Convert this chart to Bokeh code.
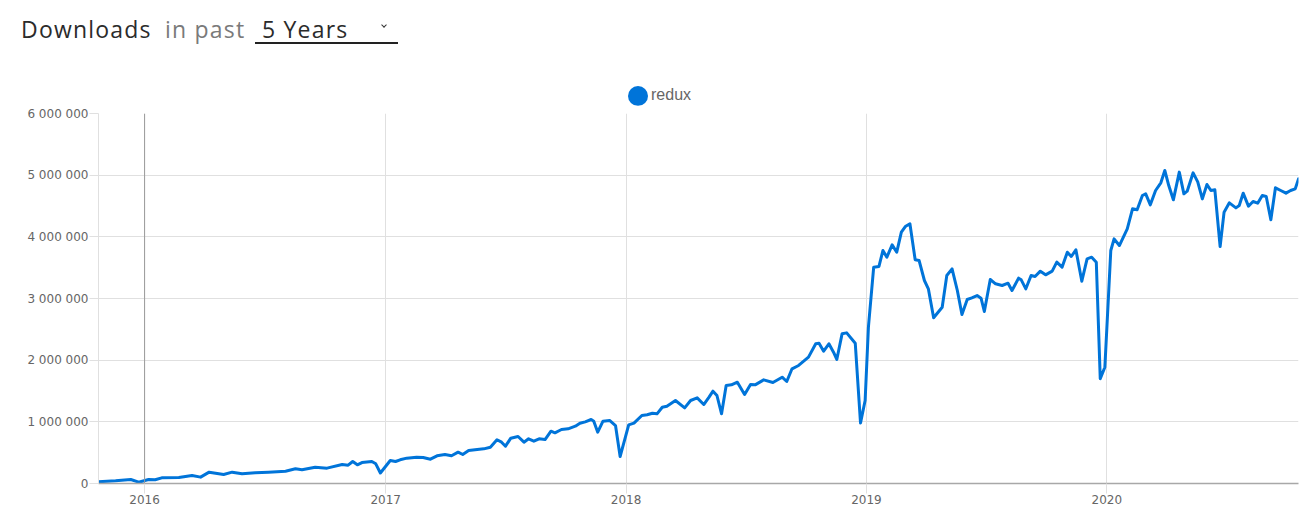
from datetime import datetime
import pandas as pd
from bokeh.plotting import figure
from bokeh.models import (Div, FixedTicker, DatetimeTickFormatter, Span, Range1d)
from bokeh.layouts import column
from bokeh.embed import file_html
from bokeh.resources import INLINE

package = "redux"
years = [2016, 2017, 2018, 2019, 2020]
y_ticks = [0, 1000000, 2000000, 3000000, 4000000, 5000000, 6000000]

week = [
    "2015-10-23", "2015-11-18", "2015-12-11", "2015-12-23", "2016-01-07", "2016-01-17",
    "2016-01-27", "2016-02-22", "2016-03-13", "2016-03-26", "2016-04-08", "2016-04-30",
    "2016-05-13", "2016-05-28", "2016-06-17", "2016-07-07", "2016-08-02", "2016-08-17",
    "2016-08-27", "2016-09-16", "2016-10-04", "2016-10-27", "2016-11-05", "2016-11-12",
    "2016-11-19", "2016-11-26", "2016-12-11", "2016-12-17", "2016-12-24", "2017-01-08",
    "2017-01-16", "2017-01-23", "2017-02-02", "2017-02-17", "2017-02-27", "2017-03-10",
    "2017-03-20", "2017-04-01", "2017-04-11", "2017-04-21", "2017-04-28", "2017-05-07",
    "2017-05-20", "2017-05-30", "2017-06-09", "2017-06-19", "2017-06-26", "2017-07-02",
    "2017-07-10", "2017-07-21", "2017-07-30", "2017-08-06", "2017-08-14", "2017-08-22",
    "2017-08-31", "2017-09-09", "2017-09-15", "2017-09-25", "2017-10-05", "2017-10-16",
    "2017-10-23", "2017-10-31", "2017-11-09", "2017-11-13", "2017-11-19", "2017-11-27",
    "2017-12-07", "2017-12-16", "2017-12-23", "2017-12-31", "2018-01-05", "2018-01-13",
    "2018-01-25", "2018-02-02", "2018-02-10", "2018-02-17", "2018-02-25", "2018-03-04",
    "2018-03-17", "2018-03-31", "2018-04-09", "2018-04-19", "2018-04-29", "2018-05-07",
    "2018-05-13", "2018-05-19", "2018-05-26", "2018-06-02", "2018-06-10", "2018-06-19",
    "2018-06-30", "2018-07-09", "2018-07-16", "2018-07-29", "2018-08-12", "2018-08-26",
    "2018-09-02", "2018-09-10", "2018-09-20", "2018-10-05", "2018-10-16", "2018-10-21",
    "2018-10-28", "2018-11-05", "2018-11-12", "2018-11-17", "2018-11-25", "2018-12-02",
    "2018-12-15", "2018-12-23", "2018-12-30", "2019-01-04", "2019-01-12", "2019-01-20",
    "2019-01-26", "2019-02-01", "2019-02-09", "2019-02-16", "2019-02-23", "2019-03-01",
    "2019-03-08", "2019-03-16", "2019-03-22", "2019-03-30", "2019-04-05", "2019-04-13",
    "2019-04-26", "2019-05-03", "2019-05-11", "2019-05-19", "2019-05-26", "2019-06-03",
    "2019-06-10", "2019-06-18", "2019-06-24", "2019-06-29", "2019-07-08", "2019-07-16",
    "2019-07-26", "2019-08-04", "2019-08-10", "2019-08-20", "2019-08-24", "2019-08-31",
    "2019-09-08", "2019-09-14", "2019-09-22", "2019-09-30", "2019-10-10", "2019-10-17",
    "2019-10-25", "2019-11-02", "2019-11-08", "2019-11-15", "2019-11-24", "2019-12-02",
    "2019-12-09", "2019-12-16", "2019-12-22", "2019-12-29", "2020-01-07", "2020-01-12",
    "2020-01-20", "2020-02-01", "2020-02-09", "2020-02-16", "2020-02-24", "2020-02-29",
    "2020-03-07", "2020-03-15", "2020-03-23", "2020-03-29", "2020-04-04", "2020-04-11",
    "2020-04-20", "2020-04-27", "2020-05-02", "2020-05-11", "2020-05-18", "2020-05-25",
    "2020-06-01", "2020-06-07", "2020-06-13", "2020-06-21", "2020-06-27", "2020-07-05",
    "2020-07-15", "2020-07-20", "2020-07-26", "2020-08-03", "2020-08-10", "2020-08-17",
    "2020-08-24", "2020-08-30", "2020-09-06", "2020-09-13", "2020-09-21", "2020-09-29",
    "2020-10-06", "2020-10-13", "2020-10-18",
]

downloads = [
    27000, 43000, 65000, 21000, 65000, 60000,
    92000, 97000, 130000, 103000, 184000, 146000,
    184000, 157000, 173000, 184000, 200000, 238000,
    222000, 265000, 249000, 308000, 297000, 357000,
    303000, 340000, 357000, 319000, 170000, 373000,
    357000, 384000, 411000, 427000, 422000, 394000,
    449000, 470000, 449000, 508000, 470000, 535000,
    551000, 562000, 589000, 709000, 670000, 605000,
    735000, 762000, 670000, 725000, 686000, 725000,
    713000, 848000, 822000, 876000, 887000, 929000,
    978000, 1000000, 1038000, 1010000, 832000, 1010000,
    1022000, 940000, 438000, 751000, 950000, 978000,
    1103000, 1114000, 1140000, 1130000, 1237000, 1254000,
    1346000, 1227000, 1346000, 1389000, 1281000, 1400000,
    1497000, 1427000, 1130000, 1589000, 1600000, 1643000,
    1443000, 1605000, 1600000, 1681000, 1638000, 1724000,
    1654000, 1860000, 1914000, 2049000, 2265000, 2275000,
    2146000, 2265000, 2130000, 2011000, 2427000, 2443000,
    2275000, 980000, 1346000, 2535000, 3508000, 3520000,
    3778000, 3670000, 3870000, 3751000, 4075000, 4167000,
    4211000, 3627000, 3616000, 3292000, 3157000, 2687000,
    2859000, 3373000, 3481000, 3130000, 2740000, 2984000,
    3011000, 3048000, 3005000, 2789000, 3308000, 3238000,
    3211000, 3248000, 3130000, 3330000, 3303000, 3157000,
    3373000, 3357000, 3443000, 3384000, 3443000, 3589000,
    3508000, 3751000, 3681000, 3789000, 3281000, 3643000,
    3670000, 3589000, 1700000, 1886000, 3778000, 3967000,
    3859000, 4129000, 4454000, 4440000, 4670000, 4697000,
    4519000, 4751000, 4876000, 5076000, 4832000, 4600000,
    5049000, 4697000, 4740000, 5038000, 4892000, 4616000,
    4849000, 4751000, 4762000, 3843000, 4400000, 4551000,
    4470000, 4508000, 4708000, 4497000, 4573000, 4546000,
    4670000, 4654000, 4276000, 4795000, 4751000, 4708000,
    4751000, 4778000, 4940000,
]

LINE_COLOR = "#0074d9"
AXIS_FONT = "DejaVu Sans"

x = pd.to_datetime(week)

header = Div(
    width=1307, height=105, margin=0,
    text=(
        '<div style="position:relative;width:1307px;height:105px;">'
        '<div style="font-family:\'Open Sans\';font-size:23px;line-height:23px;letter-spacing:1.2px;">'
        '<span style="position:absolute;left:21px;top:18px;color:#2b2b2b;white-space:nowrap;">Downloads</span>'
        '<span style="position:absolute;left:165px;top:18px;color:#7a7a7a;white-space:nowrap;">in past</span>'
        '<span style="position:absolute;left:262px;top:18px;color:#2b2b2b;white-space:nowrap;">5 Years</span>'
        '</div>'
        '<span style="position:absolute;left:382px;top:23px;width:4px;height:4px;'
        'border-right:1.5px solid #333;border-bottom:1.5px solid #333;transform:rotate(45deg);"></span>'
        '<span style="position:absolute;left:255px;top:42px;width:143px;height:1.6px;background:#222;"></span>'
        '<span style="position:absolute;left:628px;top:86px;width:20px;height:20px;border-radius:50%;'
        f'background:{LINE_COLOR};"></span>'
        '<span style="position:absolute;left:651px;top:87px;font-family:\'Liberation Sans\';font-size:16px;'
        f'line-height:16px;color:#666666;white-space:nowrap;">{package}</span>'
        '</div>'
    ),
)

p = figure(
    width=1307, height=406,
    x_axis_type="datetime",
    x_range=Range1d(x[0], x[-1]),
    y_range=Range1d(0, 6000000),
    output_backend="svg", toolbar_location=None,
    min_border_left=98, min_border_right=9, min_border_top=8, min_border_bottom=28,
)
p.outline_line_color = None
p.background_fill_color = "white"

# cursor line at the first year
p.add_layout(Span(location=datetime(years[0], 1, 1), dimension="height",
                  line_color="#9a9a9a", line_width=1))

p.line(x, downloads, line_color=LINE_COLOR, line_width=3, line_join="round", line_cap="round")

# axes
p.xaxis.ticker = FixedTicker(ticks=[datetime(yv, 1, 1).timestamp() * 1000 for yv in years])
p.xaxis.formatter = DatetimeTickFormatter(years="%Y", months="%Y", days="%Y", hours="%Y",
                                          minutes="%Y", seconds="%Y", milliseconds="%Y",
                                          microseconds="%Y", hourmin="%Y", minsec="%Y")
p.yaxis.ticker = FixedTicker(ticks=y_ticks)
p.yaxis.major_label_overrides = {v: f"{v:,}".replace(",", " ") for v in y_ticks}

for ax in (p.xaxis[0], p.yaxis[0]):
    ax.major_label_text_font = AXIS_FONT
    ax.major_label_text_font_size = "12px"
    ax.major_label_text_color = "#666666"
    ax.minor_tick_line_color = None
    ax.major_tick_in = 0
    ax.major_tick_line_color = "#e0e0e0"

p.xaxis.axis_line_color = "#a8a8a8"
p.xaxis.axis_line_width = 1.5
p.xaxis.major_tick_out = 10
p.xaxis.major_label_standoff = 1
p.yaxis.axis_line_color = "#e0e0e0"
p.yaxis.major_tick_out = 9
p.yaxis.major_label_standoff = 1

p.xgrid.grid_line_color = "#e0e0e0"
p.ygrid.grid_line_color = "#e0e0e0"

layout = column(header, p, spacing=0)
open("out.html", "w").write(file_html(layout, INLINE))
